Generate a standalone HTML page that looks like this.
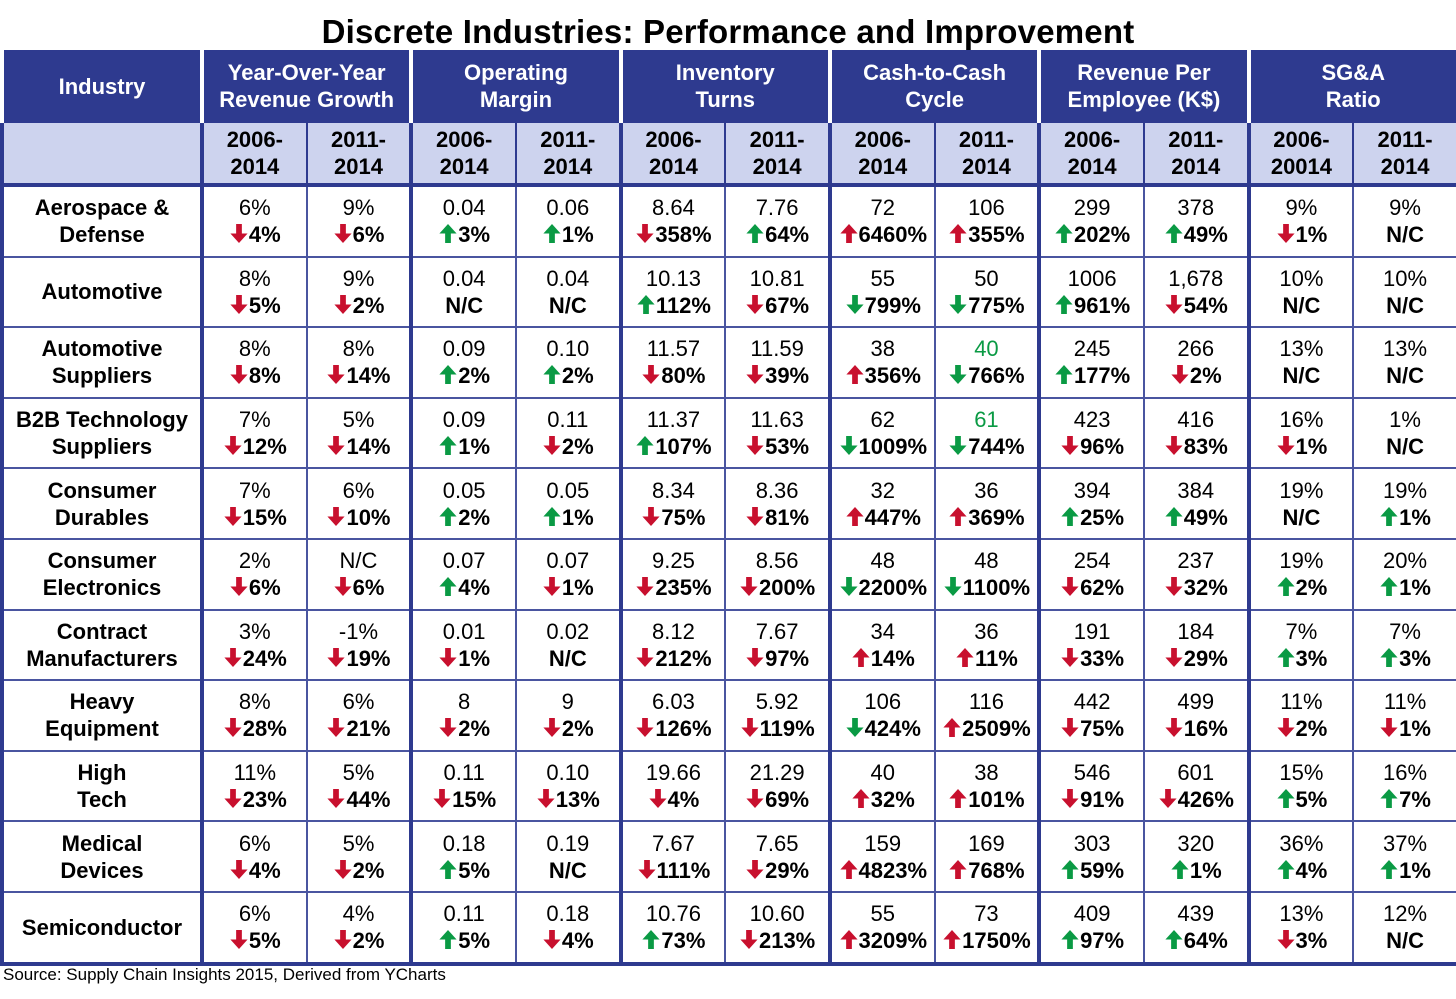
<!DOCTYPE html>
<html><head><meta charset="utf-8"><style>
body{margin:0;width:1456px;height:999px;background:#fff;font-family:"Liberation Sans",Arial,sans-serif;position:relative;overflow:hidden}
.title{position:absolute;top:13px;left:0;width:1456px;text-align:center;font-weight:bold;font-size:33px;color:#000;letter-spacing:0.2px}
table{position:absolute;top:50px;left:0;border-collapse:collapse;table-layout:fixed;width:1456px}
td{border:2px solid #4a55a0;text-align:center;padding:0;font-size:22px;line-height:27px;color:#000}
tr.h1 td{background:#2e3a8f;color:#fff;font-weight:bold;height:66px;border-color:#fff;border-top:3px solid #2e3a8f;border-bottom:3px solid #2e3a8f}
tr.h2 td{background:#cdd3ee;font-weight:bold;height:60px;border-color:#2e3a8f}
tr.d td{height:68.6px}
td.g{border-left:4px solid #2e3a8f}
td.ind{font-weight:bold;border-left:4px solid #2e3a8f}
td.last{border-right:4px solid #2e3a8f}
tr.lastrow td{border-bottom:4px solid #2e3a8f}
tr.h2 td{border-bottom:4px solid #2e3a8f;border-top:4px solid #2e3a8f}
b{font-weight:bold}
.ar{display:inline-block;width:20px;height:21px;vertical-align:-2px;margin-right:0px}
.gr{color:#0a9a44}
.src{position:absolute;top:965px;left:3px;font-size:17px}
</style></head><body>
<div class="title">Discrete Industries: Performance and Improvement</div>
<table id="t">
<colgroup><col style="width:200px"><col span="12" style="width:104.67px"></colgroup>
<tr class="h1"><td class="ind">Industry</td><td colspan="2" class="g">Year-Over-Year<br>Revenue Growth</td><td colspan="2" class="g">Operating<br>Margin</td><td colspan="2" class="g">Inventory<br>Turns</td><td colspan="2" class="g">Cash-to-Cash<br>Cycle</td><td colspan="2" class="g">Revenue Per<br>Employee (K$)</td><td colspan="2" class="g last">SG&amp;A<br>Ratio</td></tr>
<tr class="h2"><td class="ind"></td>
<td class="g">2006-<br>2014</td><td>2011-<br>2014</td><td class="g">2006-<br>2014</td><td>2011-<br>2014</td><td class="g">2006-<br>2014</td><td>2011-<br>2014</td><td class="g">2006-<br>2014</td><td>2011-<br>2014</td><td class="g">2006-<br>2014</td><td>2011-<br>2014</td><td class="g">2006-<br>20014</td><td class="last">2011-<br>2014</td></tr>
</table>
<div class="src">Source: Supply Chain Insights 2015, Derived from YCharts</div>
<script>
var rows=[
["Aerospace &amp;<br>Defense","6%|dr|4%","9%|dr|6%","0.04|ug|3%","0.06|ug|1%","8.64|dr|358%","7.76|ug|64%","72|ur|6460%","106|ur|355%","299|ug|202%","378|ug|49%","9%|dr|1%","9%||N/C"],
["Automotive","8%|dr|5%","9%|dr|2%","0.04||N/C","0.04||N/C","10.13|ug|112%","10.81|dr|67%","55|dg|799%","50|dg|775%","1006|ug|961%","1,678|dr|54%","10%||N/C","10%||N/C"],
["Automotive<br>Suppliers","8%|dr|8%","8%|dr|14%","0.09|ug|2%","0.10|ug|2%","11.57|dr|80%","11.59|dr|39%","38|ur|356%","*40|dg|766%","245|ug|177%","266|dr|2%","13%||N/C","13%||N/C"],
["B2B Technology<br>Suppliers","7%|dr|12%","5%|dr|14%","0.09|ug|1%","0.11|dr|2%","11.37|ug|107%","11.63|dr|53%","62|dg|1009%","*61|dg|744%","423|dr|96%","416|dr|83%","16%|dr|1%","1%||N/C"],
["Consumer<br>Durables","7%|dr|15%","6%|dr|10%","0.05|ug|2%","0.05|ug|1%","8.34|dr|75%","8.36|dr|81%","32|ur|447%","36|ur|369%","394|ug|25%","384|ug|49%","19%||N/C","19%|ug|1%"],
["Consumer<br>Electronics","2%|dr|6%","N/C|dr|6%","0.07|ug|4%","0.07|dr|1%","9.25|dr|235%","8.56|dr|200%","48|dg|2200%","48|dg|1100%","254|dr|62%","237|dr|32%","19%|ug|2%","20%|ug|1%"],
["Contract<br>Manufacturers","3%|dr|24%","-1%|dr|19%","0.01|dr|1%","0.02||N/C","8.12|dr|212%","7.67|dr|97%","34|ur|14%","36|ur|11%","191|dr|33%","184|dr|29%","7%|ug|3%","7%|ug|3%"],
["Heavy<br>Equipment","8%|dr|28%","6%|dr|21%","8|dr|2%","9|dr|2%","6.03|dr|126%","5.92|dr|119%","106|dg|424%","116|ur|2509%","442|dr|75%","499|dr|16%","11%|dr|2%","11%|dr|1%"],
["High<br>Tech","11%|dr|23%","5%|dr|44%","0.11|dr|15%","0.10|dr|13%","19.66|dr|4%","21.29|dr|69%","40|ur|32%","38|ur|101%","546|dr|91%","601|dr|426%","15%|ug|5%","16%|ug|7%"],
["Medical<br>Devices","6%|dr|4%","5%|dr|2%","0.18|ug|5%","0.19||N/C","7.67|dr|111%","7.65|dr|29%","159|ur|4823%","169|ur|768%","303|ug|59%","320|ug|1%","36%|ug|4%","37%|ug|1%"],
["Semiconductor","6%|dr|5%","4%|dr|2%","0.11|ug|5%","0.18|dr|4%","10.76|ug|73%","10.60|dr|213%","55|ur|3209%","73|ur|1750%","409|ug|97%","439|ug|64%","13%|dr|3%","12%||N/C"]];
function arrow(a){var c=a[1]=='r'?'#c8102e':'#0a9a44';
var p=a[0]=='u'?'M10 1 L19 11 L13 11 L13 21 L7 21 L7 11 L1 11 Z':'M10 21 L19 11 L13 11 L13 1 L7 1 L7 11 L1 11 Z';
return '<svg class="ar" viewBox="0 0 20 22"><path d="'+p+'" fill="'+c+'"/></svg>';}
var h='';
rows.forEach(function(r,i){h+='<tr class="d'+(i==rows.length-1?' lastrow':'')+'"><td class="ind">'+r[0]+'</td>';
for(var j=1;j<13;j++){var p=r[j].split('|');var v=p[0];if(v[0]=='*')v='<span class="gr">'+v.slice(1)+'</span>';
var cls=(j%2==1?'g':'')+(j==12?' last':'');
h+='<td class="'+cls+'">'+v+'<br><b>'+(p[1]?arrow(p[1]):'')+p[2]+'</b></td>';}
h+='</tr>';});
document.getElementById('t').insertAdjacentHTML('beforeend',h);
</script>
</body></html>
